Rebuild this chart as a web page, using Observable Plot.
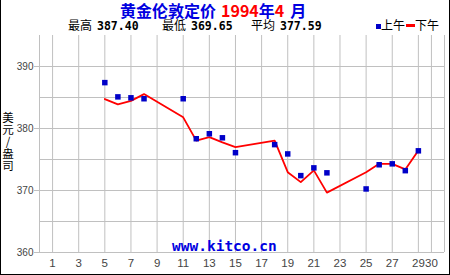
<!DOCTYPE html>
<html>
<head>
<meta charset="utf-8">
<script src="https://cdn.jsdelivr.net/npm/d3@7"></script>
<script src="https://cdn.jsdelivr.net/npm/@observablehq/plot@0.6"></script>
<style>
  html, body { margin: 0; padding: 0; background: #fff; }
  #wrap { position: relative; width: 450px; height: 275px; overflow: hidden; background: #fff; }
  #wrap svg { position: absolute; left: 0; top: 0; }
  .abs { position: absolute; white-space: nowrap; line-height: 1; }
  .cjk { font-family: "Noto Sans CJK SC", sans-serif; }
  .num { font-family: "DejaVu Sans Mono", monospace; font-weight: bold; }
</style>
</head>
<body>
<div id="wrap"></div>
<script>
// ---- data ----
const days = [5, 6, 7, 8, 11, 12, 13, 14, 15, 18, 19, 20, 21, 22, 25, 26, 27, 28, 29];
const amPrices = [387.40, 385.10, 384.95, 384.80, 384.80, 378.35, 379.15, 378.50, 376.10, 377.40, 375.90, 372.40, 373.65, 372.85, 370.25, 374.15, 374.30, 373.20, 376.40];
const pmPrices = [384.75, 383.90, 384.45, 385.55, 381.80, 378.05, 378.60, 377.75, 377.00, 378.05, 372.95, 371.35, 373.25, 369.65, 372.95, 374.30, 374.30, 373.40, 376.45];
const xTicks = [1, 3, 5, 7, 9, 11, 13, 15, 17, 19, 21, 23, 25, 27, 29, 30];
const yTicks = [360, 370, 380, 390];
const yGrid = [365, 370, 375, 380, 385, 390];
const titleParts = [["黄金伦敦定价", "blue"], ["1994", "red"], ["年", "blue"], ["4", "red"], ["月", "blue"]];
const statLabels = ["最高", "最低", "平均"];
const statValues = ["387.40", "369.65", "377.59"];
const seriesNames = ["上午", "下午"];
const yLabel = ["美", "元", "/", "盎", "司"];
const watermark = "www.kitco.cn";

const am = days.map((d, i) => ({day: d, price: amPrices[i]}));
const pm = days.map((d, i) => ({day: d, price: pmPrices[i]}));

const BLUE = "#0000c8", RED = "#ff0000", GRID = "#c0c0c0";

const chart = Plot.plot({
  width: 450,
  height: 275,
  marginLeft: 39,
  marginRight: 6,
  marginTop: 35,
  marginBottom: 23,
  x: {domain: [0, 31]},
  y: {domain: [360, 395]},
  style: {background: "transparent", fontFamily: "'Liberation Sans', Arial, sans-serif", overflow: "visible"},
  marks: [
    Plot.gridY(yGrid, {stroke: GRID, strokeOpacity: 1}),
    Plot.gridX(xTicks, {stroke: GRID, strokeOpacity: 1}),
    Plot.ruleX([0, 31], {stroke: GRID}),
    Plot.ruleY([360], {stroke: GRID}),
    Plot.axisY(yTicks, {tickSize: 5, tickPadding: 1, stroke: GRID, fill: "#444", fontSize: 10, label: null}),
    Plot.axisX(xTicks, {tickSize: 0, tickPadding: 6, fill: "#444", fontSize: 11.5, label: null}),
    Plot.line(pm, {x: "day", y: "price", stroke: RED, strokeWidth: 1.8}),
    Plot.dot(am, {x: "day", y: "price", symbol: "square", r: 3.1, fill: BLUE, stroke: null})
  ]
});

const wrap = document.getElementById("wrap");
wrap.appendChild(chart);

function addDiv(html, css, cls) {
  const d = document.createElement("div");
  d.className = "abs " + (cls || "");
  d.innerHTML = html;
  Object.assign(d.style, css);
  wrap.appendChild(d);
  return d;
}

// title
const gaps = [0, 5, 0, 0, 6];
addDiv(titleParts.map(([t, c], i) => `<span style="color:${c === "red" ? "#ff0000" : "#0000e0"};margin-left:${gaps[i]}px">${t}</span>`).join(""),
  {left: "120px", top: "2px", fontSize: "16px", fontWeight: "bold"}, "cjk");

// stats
const statX = [68, 162, 251];
statLabels.forEach((lab, i) => {
  addDiv(`<span class="cjk">${lab}</span><span class="num" style="font-size:11.5px;margin-left:5px">${statValues[i]}</span>`,
    {left: statX[i] + "px", top: "19px", fontSize: "12px", color: "#000"}, "cjk");
});

// legend
addDiv(`<span style="display:inline-block;width:5px;height:5px;background:${BLUE};vertical-align:1px"></span>${seriesNames[0]}<span style="display:inline-block;width:9px;height:3px;background:${RED};vertical-align:3px;margin-left:1px"></span>${seriesNames[1]}`,
  {left: "376px", top: "19px", fontSize: "12px", color: "#000"}, "cjk");

// y label (stacked)
yLabel.forEach((ch, i) => {
  addDiv(ch, {left: "2px", top: (112 + i * 12) + "px", fontSize: "11.5px", lineHeight: "11.5px", color: "#000", textAlign: "center", width: "12px"}, "cjk");
});

// watermark
addDiv(watermark, {left: "172px", top: "239px", fontSize: "14.5px", color: "#0000e0"}, "num");

// outer border (left, right, bottom)
addDiv("", {left: "0px", top: "0px", width: "1px", height: "275px", background: "#000"});
addDiv("", {left: "449px", top: "0px", width: "1px", height: "275px", background: "#000"});
addDiv("", {left: "0px", top: "274px", width: "450px", height: "1px", background: "#000"});
</script>
</body>
</html>
